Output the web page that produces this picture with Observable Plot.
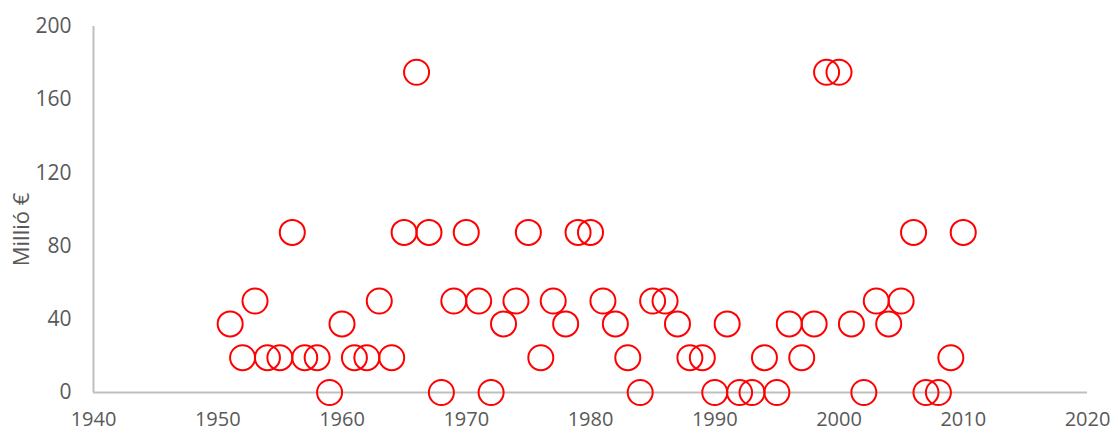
<!DOCTYPE html>
<html>
<head>
<meta charset="utf-8">
<script src="https://cdn.jsdelivr.net/npm/d3@7"></script>
<script src="https://cdn.jsdelivr.net/npm/@observablehq/plot@0.6"></script>
<style>
  html, body { margin: 0; padding: 0; background: #fff; }
  #chart { width: 1118px; height: 434px; }
</style>
</head>
<body>
<div id="chart"></div>
<script>
const years = [1951,1952,1953,1954,1955,1956,1957,1958,1959,1960,
  1961,1962,1963,1964,1965,1966,1967,1968,1969,1970,
  1971,1972,1973,1974,1975,1976,1977,1978,1979,1980,
  1981,1982,1983,1984,1985,1986,1987,1988,1989,1990,
  1991,1992,1993,1994,1995,1996,1997,1998,1999,2000,
  2001,2002,2003,2004,2005,2006,2007,2008,2009,2010];
const values = [37.5,19,50,19,19,87.5,19,19,0,37.5,
  19,19,50,19,87.5,175,87.5,0,50,87.5,
  50,0,37.5,50,87.5,19,50,37.5,87.5,87.5,
  50,37.5,19,0,50,50,37.5,19,19,0,
  37.5,0,0,19,0,37.5,19,37.5,175,175,
  37.5,0,50,37.5,50,87.5,0,0,19,87.5];
const xTicks = [1940,1950,1960,1970,1980,1990,2000,2010,2020];
const yTicks = [0,40,80,120,160,200];
const yTitle = "Millió €";

const data = years.map((y, i) => ({year: y, value: values[i]}));
const textColor = "#595959";
const axisColor = "#bfbfbf";

const chart = Plot.plot({
  width: 1118,
  height: 434,
  marginLeft: 93,
  marginRight: 31,
  marginTop: 26,
  marginBottom: 42,
  style: {fontFamily: "'Open Sans', sans-serif", fontSize: "21px", color: textColor, background: "#fff"},
  x: {domain: [1940, 2020]},
  y: {domain: [0, 200]},
  marks: [
    Plot.ruleY([0], {stroke: axisColor, strokeWidth: 2}),
    Plot.ruleX([1940], {y1: 0, y2: 200, stroke: axisColor, strokeWidth: 2}),
    Plot.axisX({ticks: xTicks, tickFormat: d => String(d), tickSize: 0, tickPadding: 19, label: null, fill: textColor, fontSize: 20}),
    Plot.axisY({ticks: yTicks, tickFormat: d => String(d), tickSize: 0, tickPadding: 22, label: null, fill: textColor, fontSize: 21}),
    Plot.text([yTitle], {frameAnchor: "left", text: d => d, rotate: -90, dx: -72, dy: 20, fill: textColor, fontSize: 22, textAnchor: "middle"}),
    Plot.dot(data, {x: "year", y: "value", r: 12.5, stroke: "#ff0000", strokeWidth: 2, fill: "none"})
  ]
});
document.getElementById("chart").appendChild(chart);
</script>
</body>
</html>
